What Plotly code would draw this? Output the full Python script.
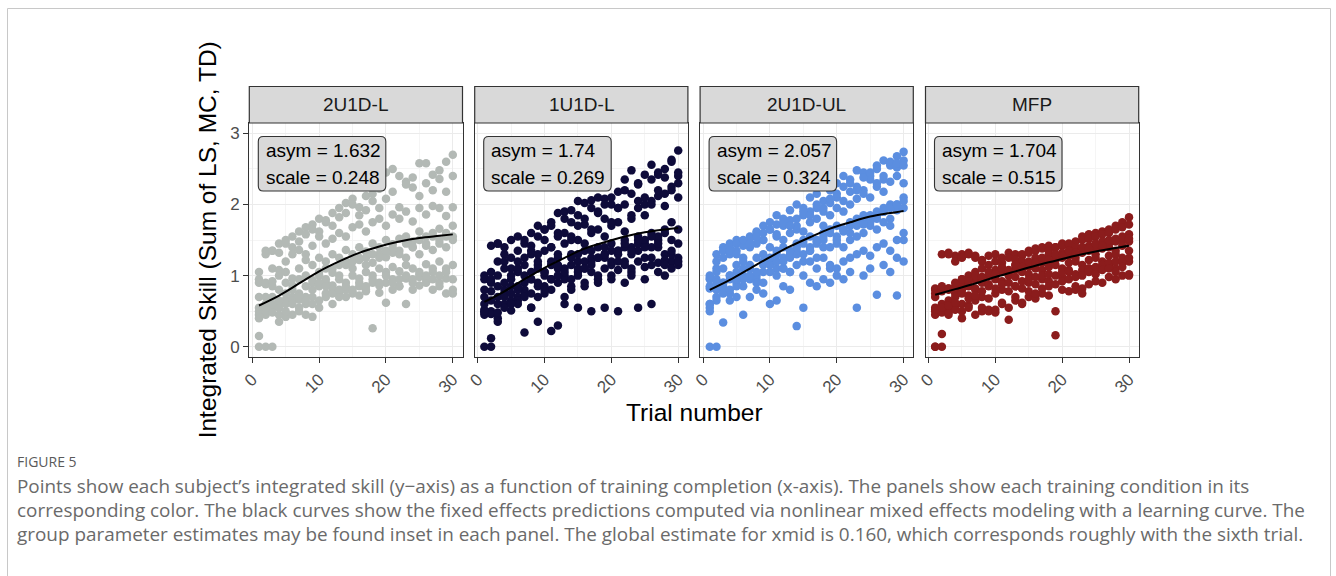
import plotly.graph_objects as go

W_PX, H_PX = 1336, 576

trials = list(range(1, 31))

panel_names = ["2U1D-L", "1U1D-L", "2U1D-UL", "MFP"]
panel_colors = ["#B3B9B5", "#0E0B3A", "#5B8EE0", "#8B1C1C"]
asym_vals = ["1.632", "1.74", "2.057", "1.704"]
scale_vals = ["0.248", "0.269", "0.324", "0.515"]

# Per-subject integrated skill values (one row per subject, trials 1..30)
skill_2U1D_L = [
    [1.05, 1.35, 1.35, 1.45, 1.50, 1.55, 1.62, 1.68, 1.72, 1.80, 1.78, 1.88, 1.95, 2.02, 2.08, 1.96, 2.12, 2.15, 2.22, 2.45, 2.50, 2.40, 2.32, 2.38, 2.58, 2.58, 2.42, 2.48, 2.60, 2.70],
    [0.95, 1.30, 1.10, 1.32, 1.45, 1.40, 1.48, 1.58, 1.65, 1.62, 1.75, 1.70, 1.82, 1.88, 2.00, 1.85, 1.92, 2.05, 1.95, 2.08, 2.18, 1.96, 2.28, 2.24, 2.12, 2.30, 2.20, 2.36, 2.18, 2.40],
    [0.90, 0.88, 1.35, 1.08, 1.20, 1.30, 1.36, 1.30, 1.42, 1.55, 1.45, 1.52, 1.60, 1.55, 1.68, 1.72, 1.62, 1.75, 1.80, 1.70, 1.86, 1.80, 1.90, 1.76, 1.95, 1.86, 1.98, 1.95, 1.84, 1.96],
    [0.70, 0.90, 0.92, 1.00, 1.05, 0.96, 1.10, 1.22, 1.15, 1.25, 1.20, 1.30, 1.25, 1.36, 1.30, 1.40, 1.34, 1.45, 1.40, 1.50, 1.44, 1.52, 1.55, 1.48, 1.62, 1.55, 1.60, 1.66, 1.55, 1.70],
    [0.55, 0.60, 0.85, 0.80, 0.90, 0.86, 0.95, 1.00, 0.94, 1.05, 1.10, 1.04, 1.15, 1.20, 1.10, 1.22, 1.25, 1.18, 1.30, 1.26, 1.32, 1.35, 1.25, 1.40, 1.30, 1.42, 1.36, 1.45, 1.40, 1.50],
    [0.50, 0.45, 0.55, 0.60, 0.66, 0.70, 0.75, 0.70, 0.80, 0.85, 0.90, 0.86, 0.95, 0.90, 1.00, 0.96, 1.05, 1.00, 1.10, 1.05, 1.12, 1.06, 1.15, 1.10, 1.02, 1.16, 1.05, 1.20, 1.10, 1.15],
    [0.45, 0.50, 0.48, 0.35, 0.42, 0.45, 0.50, 0.45, 0.42, 0.55, 0.70, 0.60, 0.75, 0.70, 0.75, 0.72, 0.78, 0.26, 0.76, 0.62, 0.80, 0.85, 0.60, 0.80, 0.86, 0.95, 0.80, 0.90, 0.75, 0.95],
    [0.15, 0.00, 0.00, 0.55, 0.60, 0.65, 0.66, 0.60, 0.70, 0.65, 0.75, 0.80, 0.70, 0.80, 0.76, 0.85, 0.80, 0.90, 0.86, 0.90, 0.95, 0.85, 0.96, 0.90, 0.98, 0.90, 0.95, 0.85, 0.96, 0.80],
    [0.00, 0.70, 0.60, 0.65, 0.75, 0.80, 0.70, 0.85, 0.90, 1.00, 0.95, 1.10, 1.00, 1.15, 1.20, 1.25, 1.15, 1.30, 1.25, 1.35, 1.40, 1.30, 1.45, 1.40, 1.50, 1.45, 1.55, 1.50, 1.60, 1.55],
    [0.40, 0.55, 0.70, 0.45, 0.50, 0.60, 0.55, 0.65, 0.60, 0.90, 0.85, 0.75, 0.80, 0.85, 0.80, 0.90, 0.85, 0.95, 0.90, 1.00, 0.90, 0.95, 1.00, 0.95, 1.05, 1.00, 1.10, 1.00, 1.05, 0.75],
]

skill_1U1D_L = [
    [1.00, 1.42, 1.45, 1.30, 1.50, 1.55, 1.45, 1.60, 1.70, 1.65, 1.75, 1.88, 1.90, 1.92, 2.05, 2.02, 2.06, 2.10, 2.08, 2.00, 2.18, 2.35, 2.48, 2.30, 2.42, 2.56, 2.45, 2.50, 2.63, 2.76],
    [0.95, 1.05, 1.20, 1.40, 1.25, 1.35, 1.50, 1.42, 1.55, 1.65, 1.70, 1.60, 1.80, 1.75, 1.85, 1.72, 1.95, 1.88, 2.00, 2.10, 1.95, 2.20, 2.15, 2.28, 2.00, 2.35, 2.42, 2.38, 2.60, 2.40],
    [0.70, 0.90, 1.00, 1.20, 1.10, 1.05, 1.25, 1.30, 1.15, 1.35, 1.40, 1.30, 1.45, 1.55, 1.50, 1.45, 1.60, 1.65, 1.55, 1.70, 1.75, 1.62, 1.80, 1.95, 1.85, 2.05, 2.12, 1.98, 2.20, 2.30],
    [0.60, 0.78, 0.85, 0.80, 0.95, 1.10, 0.90, 1.05, 1.20, 1.00, 1.15, 1.25, 1.10, 1.30, 1.20, 1.35, 1.25, 1.40, 1.30, 1.45, 1.35, 1.50, 1.40, 1.55, 1.45, 1.60, 1.50, 1.65, 1.75, 2.10],
    [0.48, 0.50, 0.70, 0.75, 0.85, 0.70, 0.80, 0.95, 0.85, 1.05, 0.95, 1.10, 1.00, 1.15, 1.05, 1.10, 1.20, 1.00, 1.25, 1.15, 1.30, 1.20, 1.10, 1.35, 1.25, 1.15, 1.40, 1.30, 1.20, 1.45],
    [0.45, 0.46, 0.40, 0.60, 0.51, 0.65, 0.75, 0.55, 0.70, 0.85, 0.80, 0.90, 0.95, 0.85, 1.00, 0.90, 1.05, 0.95, 1.10, 1.00, 1.08, 1.15, 1.05, 1.20, 1.12, 1.25, 1.18, 1.22, 1.30, 1.25],
    [0.00, 0.00, 0.48, 0.55, 0.65, 0.60, 0.20, 0.55, 0.35, 0.75, 0.22, 0.30, 0.70, 0.80, 0.55, 0.85, 0.50, 0.90, 0.55, 0.95, 0.50, 0.90, 1.00, 0.55, 0.95, 0.60, 1.05, 1.00, 1.10, 1.15],
    [0.52, 0.12, 0.35, 0.70, 0.60, 0.80, 0.70, 0.75, 0.90, 0.80, 0.95, 1.00, 1.05, 0.95, 1.10, 1.20, 1.15, 1.25, 1.30, 1.20, 1.35, 1.40, 1.30, 1.45, 1.50, 1.40, 1.55, 1.60, 1.50, 1.65],
    [0.80, 0.95, 1.45, 1.10, 1.00, 1.20, 1.15, 1.35, 1.30, 1.50, 1.40, 1.55, 1.60, 1.50, 1.70, 1.80, 1.65, 1.90, 1.80, 1.75, 1.95, 2.00, 1.85, 2.05, 2.10, 2.00, 2.20, 2.15, 2.25, 2.45],
    [0.50, 0.65, 0.60, 0.90, 0.75, 0.85, 1.00, 0.95, 1.10, 1.05, 1.20, 1.15, 0.60, 1.25, 1.30, 1.10, 1.35, 1.25, 1.40, 1.35, 1.20, 1.45, 1.35, 1.50, 1.40, 1.55, 1.45, 1.15, 1.35, 1.20],
]

skill_2U1D_UL = [
    [0.97, 1.30, 1.40, 1.45, 1.50, 1.48, 1.55, 1.62, 1.70, 1.75, 1.85, 1.80, 1.92, 2.00, 1.95, 2.10, 2.15, 2.05, 2.20, 2.30, 2.40, 2.35, 2.48, 2.45, 2.40, 2.55, 2.62, 2.58, 2.68, 2.74],
    [0.95, 1.10, 1.35, 1.40, 1.45, 1.42, 1.52, 1.60, 1.50, 1.65, 1.72, 1.70, 1.78, 1.65, 1.85, 1.90, 1.95, 1.90, 2.02, 2.10, 2.05, 2.18, 2.25, 2.20, 2.35, 2.30, 2.40, 2.55, 2.52, 2.62],
    [0.85, 1.20, 1.10, 1.30, 1.35, 1.25, 1.40, 1.45, 1.50, 1.40, 1.55, 1.50, 1.60, 1.70, 1.62, 1.75, 1.80, 1.70, 1.85, 1.95, 1.90, 2.00, 2.08, 2.15, 2.10, 2.25, 2.18, 2.32, 2.40, 2.30],
    [0.60, 0.95, 0.90, 1.00, 1.15, 1.20, 1.10, 1.25, 1.30, 1.20, 1.35, 1.40, 1.30, 1.45, 1.50, 1.55, 1.48, 1.60, 1.65, 1.70, 1.62, 1.75, 1.80, 1.85, 1.78, 1.90, 1.95, 2.00, 1.92, 2.10],
    [0.55, 0.90, 0.85, 0.95, 1.05, 1.00, 1.10, 0.95, 1.15, 1.20, 1.10, 1.25, 1.05, 1.30, 1.20, 1.35, 1.25, 1.40, 1.10, 1.45, 1.40, 1.50, 1.55, 1.60, 1.70, 1.65, 1.75, 1.80, 1.25, 1.50],
    [0.50, 0.80, 0.82, 0.75, 0.90, 0.85, 0.95, 1.00, 0.90, 1.05, 1.00, 1.10, 1.05, 1.15, 1.00, 1.20, 1.10, 1.25, 1.15, 1.10, 1.20, 1.25, 1.30, 1.35, 1.28, 1.40, 1.45, 1.35, 1.50, 1.60],
    [0.00, 0.00, 0.34, 0.65, 0.70, 0.45, 0.70, 0.80, 0.75, 0.60, 0.65, 0.85, 0.80, 0.29, 0.55, 0.90, 0.85, 0.95, 0.90, 1.00, 0.95, 1.05, 0.55, 1.00, 1.10, 0.73, 1.15, 1.05, 0.72, 1.20],
    [0.60, 0.70, 0.75, 0.80, 0.85, 0.95, 1.00, 0.90, 1.05, 1.15, 1.20, 1.10, 1.25, 1.35, 1.30, 1.40, 1.45, 1.50, 1.40, 1.55, 1.65, 1.60, 1.70, 1.80, 1.75, 1.85, 1.90, 1.95, 2.00, 1.95],
    [1.00, 1.05, 1.25, 1.35, 1.30, 1.50, 1.45, 1.55, 1.60, 1.65, 1.58, 1.75, 1.70, 1.80, 1.90, 1.85, 2.00, 1.95, 2.08, 2.15, 2.25, 2.30, 2.20, 2.38, 2.45, 2.50, 2.35, 2.60, 2.58, 2.55],
    [0.82, 0.65, 0.90, 1.00, 0.95, 1.10, 1.15, 1.05, 1.20, 1.25, 1.30, 1.20, 1.35, 1.40, 1.45, 1.35, 1.50, 1.55, 1.60, 1.50, 1.65, 1.70, 1.75, 1.72, 1.85, 1.80, 1.90, 1.70, 2.00, 2.05],
]

skill_MFP = [
    [0.82, 1.30, 1.32, 1.28, 1.30, 1.32, 1.25, 1.22, 1.28, 1.30, 1.25, 1.32, 1.30, 1.28, 1.35, 1.38, 1.40, 1.42, 1.40, 1.45, 1.42, 1.48, 1.55, 1.58, 1.60, 1.62, 1.65, 1.70, 1.75, 1.82],
    [0.80, 0.82, 1.30, 1.20, 1.25, 1.30, 1.28, 1.20, 1.15, 1.20, 1.18, 1.25, 1.22, 1.30, 1.32, 1.35, 1.38, 1.35, 1.40, 1.42, 1.45, 1.40, 1.50, 1.52, 1.55, 1.58, 1.60, 1.65, 1.68, 1.72],
    [0.75, 0.80, 0.82, 0.85, 0.95, 1.00, 1.05, 1.10, 1.00, 1.08, 1.12, 1.05, 1.15, 1.20, 1.12, 1.25, 1.20, 1.30, 1.28, 1.32, 1.35, 1.30, 1.38, 1.42, 1.40, 1.48, 1.45, 1.52, 1.50, 1.58],
    [0.50, 0.78, 0.80, 0.82, 0.88, 0.90, 0.95, 0.92, 1.00, 0.98, 1.05, 1.02, 1.08, 1.10, 1.15, 1.12, 1.18, 1.20, 1.22, 1.25, 1.28, 1.25, 1.32, 1.35, 1.30, 1.38, 1.40, 1.35, 1.42, 1.48],
    [0.45, 0.48, 0.52, 0.75, 0.80, 0.85, 0.82, 0.90, 0.88, 0.95, 0.92, 1.00, 0.98, 1.05, 1.02, 1.10, 1.08, 1.12, 1.15, 1.10, 1.18, 1.20, 1.15, 1.22, 1.25, 1.20, 1.28, 1.30, 1.25, 1.35],
    [0.00, 0.18, 0.45, 0.55, 0.60, 0.58, 0.65, 0.70, 0.68, 0.75, 0.80, 0.78, 0.85, 0.82, 0.90, 0.88, 0.95, 0.92, 1.00, 0.98, 1.05, 1.02, 1.08, 1.10, 1.05, 1.12, 1.15, 1.10, 1.18, 1.20],
    [0.00, 0.00, 0.48, 0.52, 0.40, 0.55, 0.45, 0.50, 0.52, 0.48, 0.60, 0.38, 0.65, 0.62, 0.70, 0.68, 0.75, 0.72, 0.16, 0.80, 0.78, 0.85, 0.82, 0.88, 0.92, 0.90, 0.98, 0.95, 1.00, 1.02],
    [0.55, 0.60, 0.65, 0.70, 0.75, 0.72, 0.80, 0.78, 0.85, 0.82, 0.88, 0.90, 0.85, 0.92, 0.95, 0.98, 1.00, 1.02, 0.50, 1.05, 1.08, 0.80, 0.75, 1.10, 1.12, 1.15, 1.18, 1.20, 1.22, 1.25],
    [0.70, 0.85, 0.82, 0.90, 0.95, 0.92, 1.00, 0.98, 1.05, 1.02, 1.10, 1.08, 1.15, 1.12, 1.20, 1.18, 1.25, 1.22, 1.30, 1.28, 1.35, 1.32, 1.40, 1.38, 1.45, 1.42, 1.50, 1.48, 1.55, 1.52],
    [0.52, 0.55, 0.58, 0.62, 0.50, 0.68, 0.72, 0.55, 0.50, 0.52, 0.62, 0.55, 0.70, 0.60, 0.78, 0.75, 0.82, 0.85, 0.88, 0.92, 0.95, 0.98, 1.00, 1.05, 1.02, 1.08, 1.10, 1.05, 1.12, 1.00],
]

panel_skills = [skill_2U1D_L, skill_1U1D_L, skill_2U1D_UL, skill_MFP]

# Fixed-effects curves
curve_trials = [1, 4, 7, 10, 13, 16, 19, 22, 25, 28, 30]
curve_2U1D_L = [0.58, 0.72, 0.89, 1.06, 1.20, 1.32, 1.41, 1.48, 1.53, 1.56, 1.58]
curve_1U1D_L = [0.63, 0.78, 0.95, 1.11, 1.25, 1.38, 1.47, 1.55, 1.61, 1.65, 1.67]
curve_2U1D_UL = [0.80, 0.94, 1.10, 1.26, 1.41, 1.54, 1.66, 1.75, 1.83, 1.88, 1.91]
curve_MFP = [0.73, 0.81, 0.89, 0.98, 1.06, 1.14, 1.21, 1.28, 1.34, 1.39, 1.42]
panel_curves = [curve_2U1D_L, curve_1U1D_L, curve_2U1D_UL, curve_MFP]

x_ticks = [0, 10, 20, 30]
y_ticks = [0, 1, 2, 3]
y_title = "Integrated Skill (Sum of LS, MC, TD)"
x_title = "Trial number"
fig_label = "FIGURE 5"
caption_lines = [
    "Points show each subject\u2019s integrated skill (y\u2212axis) as a function of training completion (x-axis). The panels show each training condition in its",
    "corresponding color. The black curves show the fixed effects predictions computed via nonlinear mixed effects modeling with a learning curve. The",
    "group parameter estimates may be found inset in each panel. The global estimate for xmid is 0.160, which corresponds roughly with the sixth trial.",
]

# ---------------- layout geometry (pixels) ----------------
FONT = "Liberation Sans, Arial, Helvetica, sans-serif"
CAP_FONT = "Open Sans, Noto Sans, sans-serif"
panel_left = [249.3, 474.7, 700.1, 925.5]
panel_w = 213.2
panel_top, panel_bot = 123.0, 356.7
strip_top = 86.5


def fx(px):
    return px / W_PX


def fy(py):
    return 1 - py / H_PX


fig = go.Figure()
layout = dict(
    width=W_PX, height=H_PX, margin=dict(l=0, r=0, t=0, b=0, autoexpand=False),
    paper_bgcolor="white", plot_bgcolor="white", showlegend=False,
    hovermode=False,
)
shapes = []
annotations = []

for i in range(4):
    xa = "x" if i == 0 else f"x{i+1}"
    ya = "y" if i == 0 else f"y{i+1}"
    xs, ys = [], []
    for subj in panel_skills[i]:
        xs.extend(trials)
        ys.extend(subj)
    fig.add_trace(go.Scatter(
        x=xs, y=ys, mode="markers", xaxis=xa, yaxis=ya,
        marker=dict(size=8.5, color=panel_colors[i], line=dict(width=0)),
        cliponaxis=True,
    ))
    fig.add_trace(go.Scatter(
        x=curve_trials, y=panel_curves[i], mode="lines", xaxis=xa, yaxis=ya,
        line=dict(color="black", width=2, shape="spline"),
    ))
    l = panel_left[i]
    r = l + panel_w
    xkey = "xaxis" if i == 0 else f"xaxis{i+1}"
    ykey = "yaxis" if i == 0 else f"yaxis{i+1}"
    layout[xkey] = dict(
        domain=[fx(l), fx(r)], range=[-0.45, 31.45], anchor=ya, automargin=False,
        tickvals=x_ticks, ticktext=[str(v) for v in x_ticks], tickangle=-45,
        ticks="outside", ticklen=5, tickwidth=1.2, tickcolor="#333333",
        showline=True, mirror=True, linecolor="#333333", linewidth=1.2,
        showgrid=True, gridcolor="#EBEBEB", gridwidth=1.2, zeroline=False,
        minor=dict(dtick=5, tick0=0, showgrid=True, gridcolor="#F5F5F5", gridwidth=0.7),
        tickfont=dict(family=FONT, size=17, color="#4D4D4D"),
    )
    layout[ykey] = dict(
        domain=[fy(panel_bot), fy(panel_top)], range=[-0.14, 3.146], anchor=xa, automargin=False,
        tickvals=y_ticks, ticktext=[str(v) for v in y_ticks],
        ticks="outside" if i == 0 else "", ticklen=5, tickwidth=1.2, tickcolor="#333333",
        showticklabels=(i == 0),
        showline=True, mirror=True, linecolor="#333333", linewidth=1.2,
        showgrid=True, gridcolor="#EBEBEB", gridwidth=1.2, zeroline=False,
        minor=dict(dtick=0.5, tick0=0, showgrid=True, gridcolor="#F5F5F5", gridwidth=0.7),
        tickfont=dict(family=FONT, size=17, color="#4D4D4D"),
    )
    # strip
    shapes.append(dict(type="rect", xref="paper", yref="paper",
                       x0=fx(l), x1=fx(r), y0=fy(panel_top), y1=fy(strip_top),
                       fillcolor="#D9D9D9", line=dict(color="#333333", width=1.2)))
    annotations.append(dict(xref="paper", yref="paper", x=fx((l + r) / 2),
                            y=fy((strip_top + panel_top) / 2), text=panel_names[i],
                            showarrow=False, xanchor="center", yanchor="middle",
                            font=dict(family=FONT, size=19, color="#1A1A1A")))
    # inset label box (rounded)
    bx0, by0 = l + 9, 136.5
    bx1, by1 = bx0 + 127.5, by0 + 54.5
    rr = 5
    path = (f"M {fx(bx0+rr)},{fy(by0)} L {fx(bx1-rr)},{fy(by0)} "
            f"Q {fx(bx1)},{fy(by0)} {fx(bx1)},{fy(by0+rr)} "
            f"L {fx(bx1)},{fy(by1-rr)} Q {fx(bx1)},{fy(by1)} {fx(bx1-rr)},{fy(by1)} "
            f"L {fx(bx0+rr)},{fy(by1)} Q {fx(bx0)},{fy(by1)} {fx(bx0)},{fy(by1-rr)} "
            f"L {fx(bx0)},{fy(by0+rr)} Q {fx(bx0)},{fy(by0)} {fx(bx0+rr)},{fy(by0)} Z")
    shapes.append(dict(type="path", xref="paper", yref="paper", path=path,
                       fillcolor="#D9D9D9", line=dict(color="#333333", width=1.1),
                       layer="above"))
    annotations.append(dict(xref="paper", yref="paper", x=fx(bx0 + 5.5), y=fy(150.5),
                            text=f"asym = {asym_vals[i]}", showarrow=False,
                            xanchor="left", yanchor="middle",
                            font=dict(family=FONT, size=19, color="black")))
    annotations.append(dict(xref="paper", yref="paper", x=fx(bx0 + 5.5), y=fy(177.5),
                            text=f"scale = {scale_vals[i]}", showarrow=False,
                            xanchor="left", yanchor="middle",
                            font=dict(family=FONT, size=19, color="black")))

# axis titles
annotations.append(dict(xref="paper", yref="paper", x=fx(207.5), y=fy((panel_top + panel_bot) / 2),
                        text=y_title, textangle=-90, showarrow=False,
                        xanchor="center", yanchor="middle",
                        font=dict(family=FONT, size=24.5, color="black")))
annotations.append(dict(xref="paper", yref="paper", x=fx((panel_left[0] + panel_left[3] + panel_w) / 2),
                        y=fy(412), text=x_title, showarrow=False,
                        xanchor="center", yanchor="middle",
                        font=dict(family=FONT, size=24.5, color="black")))

# caption
annotations.append(dict(xref="paper", yref="paper", x=fx(15), y=fy(461), text=fig_label,
                        showarrow=False, xanchor="left", yanchor="middle",
                        font=dict(family=CAP_FONT, size=14, color="#5A5A5A")))
for k, line in enumerate(caption_lines):
    annotations.append(dict(xref="paper", yref="paper", x=fx(15), y=fy(486 + 24 * k),
                            text=line, showarrow=False, xanchor="left", yanchor="middle",
                            font=dict(family=CAP_FONT, size=18.9, color="#6A6A6A")))

# outer frame
shapes.append(dict(type="rect", xref="paper", yref="paper",
                   x0=fx(7.5), x1=fx(1330.5), y0=-0.05, y1=fy(8.5),
                   fillcolor="rgba(0,0,0,0)", line=dict(color="#C8C8C8", width=1)))

layout["shapes"] = shapes
layout["annotations"] = annotations
fig.update_layout(**layout)
fig.write_html("out.html", config={"displayModeBar": False})
